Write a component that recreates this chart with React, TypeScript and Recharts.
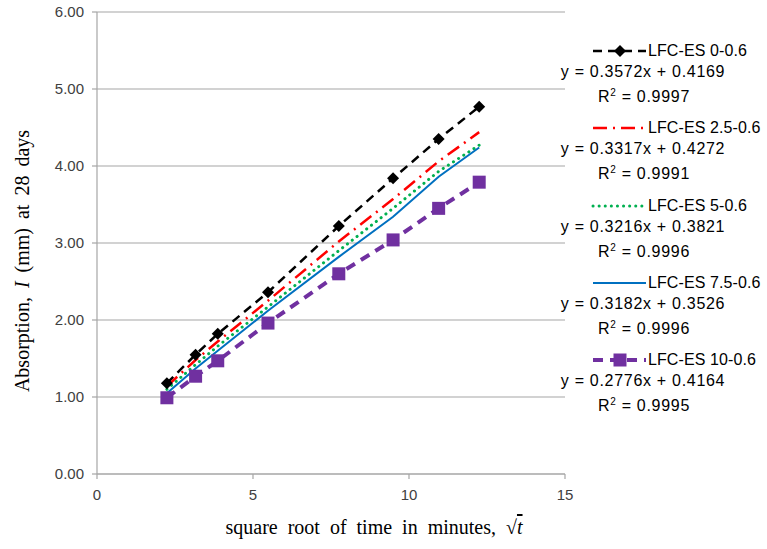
import React from "react";
import { LineChart, Line, XAxis, YAxis, CartesianGrid, Label } from "recharts";

const sqrtTime = [2.24, 3.16, 3.87, 5.48, 7.75, 9.49, 10.95, 12.25];
const es0 = [1.18, 1.55, 1.82, 2.36, 3.22, 3.84, 4.35, 4.77];
const es25 = [1.14, 1.48, 1.72, 2.25, 3.02, 3.57, 4.06, 4.44];
const es5 = [1.1, 1.42, 1.66, 2.17, 2.9, 3.45, 3.93, 4.27];
const es75 = [1.05, 1.37, 1.6, 2.12, 2.82, 3.34, 3.86, 4.24];
const es10 = [0.99, 1.27, 1.47, 1.96, 2.6, 3.04, 3.45, 3.79];

const xTicks = [0, 5, 10, 15];
const yTicks = [0, 1, 2, 3, 4, 5, 6];

const seriesNames = ["LFC-ES 0-0.6", "LFC-ES 2.5-0.6", "LFC-ES 5-0.6", "LFC-ES 7.5-0.6", "LFC-ES 10-0.6"];
const equations = [
  "y = 0.3572x + 0.4169",
  "y = 0.3317x + 0.4272",
  "y = 0.3216x + 0.3821",
  "y = 0.3182x + 0.3526",
  "y = 0.2776x + 0.4164",
];
const r2Values = ["0.9997", "0.9991", "0.9996", "0.9996", "0.9995"];

const data = sqrtTime.map((x, i) => ({
  x,
  s0: es0[i],
  s25: es25[i],
  s5: es5[i],
  s75: es75[i],
  s10: es10[i],
}));

const styles = [
  { key: "s0", color: "#000000", width: 2.5, dash: "9 6", cap: "butt" as const, marker: "diamond" },
  { key: "s25", color: "#ff0000", width: 2.5, dash: "14 6 2 6", cap: "butt" as const, marker: "none" },
  { key: "s5", color: "#00b050", width: 3, dash: "0.1 6", cap: "round" as const, marker: "none" },
  { key: "s75", color: "#0070c0", width: 2, dash: undefined, cap: "butt" as const, marker: "none" },
  { key: "s10", color: "#7030a0", width: 4, dash: "10 7", cap: "butt" as const, marker: "square" },
];

const Diamond = (props: any) => {
  const { cx, cy } = props;
  if (cx == null || cy == null) return null;
  const r = 6;
  return <path d={`M${cx},${cy - r}L${cx + r},${cy}L${cx},${cy + r}L${cx - r},${cy}Z`} fill="#000" />;
};
const Square = (props: any) => {
  const { cx, cy } = props;
  if (cx == null || cy == null) return null;
  const r = 6.5;
  return <rect x={cx - r} y={cy - r} width={2 * r} height={2 * r} fill="#7030a0" />;
};

const font = "'Liberation Sans', Arial, sans-serif";
const serif = "'Liberation Serif', 'Times New Roman', serif";

const textStyle: React.CSSProperties = {
  position: "absolute",
  fontFamily: font,
  fontSize: 16,
  letterSpacing: 0.7,
  color: "#000",
  whiteSpace: "nowrap",
  lineHeight: "18px",
};

const LegendBlock = () => (
  <div style={{ position: "absolute", left: 0, top: 0, width: 767, height: 549, pointerEvents: "none" }}>
    {seriesNames.map((name, i) => {
      const s = styles[i];
      const top = 51 + i * 77.3;
      return (
        <React.Fragment key={name}>
          <svg style={{ position: "absolute", left: 590, top: top - 8 }} width={60} height={16}>
            <line
              x1={3}
              y1={8}
              x2={56}
              y2={8}
              stroke={s.color}
              strokeWidth={s.width}
              strokeDasharray={s.dash}
              strokeLinecap={s.cap}
            />
            {s.marker === "diamond" && <Diamond cx={30} cy={8} />}
            {s.marker === "square" && <Square cx={30} cy={8} />}
          </svg>
          <div style={{ ...textStyle, left: 648, top: top - 9, letterSpacing: 0.1 }}>{name}</div>
          <div style={{ ...textStyle, left: 643, top: top + 12, transform: "translateX(-50%)" }}>{equations[i]}</div>
          <div style={{ ...textStyle, left: 644, top: top + 37, transform: "translateX(-50%)" }}>
            R<sup style={{ fontSize: 10, verticalAlign: "6px", lineHeight: 0 }}>2</sup> = {r2Values[i]}
          </div>
        </React.Fragment>
      );
    })}
  </div>
);

const YLabel = () => {
  const cx = 22;
  const cy = 261;
  return (
    <text x={cx} y={cy} transform={`rotate(-90 ${cx} ${cy})`} textAnchor="middle" dominantBaseline="central" fontFamily={serif} fontSize={20} wordSpacing={4} fill="#000">
      Absorption,{" "}
      <tspan fontStyle="italic">I</tspan>
      <tspan> (mm) at 28 days</tspan>
    </text>
  );
};

const XLabel = () => {
  const cx = 374;
  const cy = 527;
  return (
    <text x={cx} y={cy} textAnchor="middle" dominantBaseline="central" fontFamily={serif} fontSize={20} wordSpacing={5} fill="#000">
      square root of time in minutes,{" "}
      <tspan>√</tspan>
      <tspan fontStyle="italic" textDecoration="overline">t</tspan>
    </text>
  );
};

export default function App() {
  return (
    <div style={{ position: "absolute", left: 0, top: 0, width: 767, height: 549, background: "#fff" }}>
      <LineChart width={767} height={549} data={data} margin={{ top: 12, right: 202, bottom: 35, left: 37 }}>
        <CartesianGrid horizontal vertical={false} stroke="#a6a6a6" strokeWidth={1.2} />
        <XAxis
          dataKey="x"
          type="number"
          domain={[0, 15]}
          ticks={xTicks}
          height={40}
          stroke="#a6a6a6"
          strokeWidth={1.2}
          tickSize={5}
          tick={{ fill: "#404040", fontFamily: font, fontSize: 15 }}
          tickMargin={10}
        >
          <Label content={<XLabel />} />
        </XAxis>
        <YAxis
          type="number"
          domain={[0, 6]}
          ticks={yTicks}
          width={60}
          stroke="#a6a6a6"
          strokeWidth={1.2}
          tickSize={5}
          tickMargin={8}
          tickFormatter={(v: number) => v.toFixed(2)}
          tick={{ fill: "#404040", fontFamily: font, fontSize: 15 }}
        >
          <Label content={<YLabel />} />
        </YAxis>
        {styles.map((s, i) => (
          <Line
            key={s.key}
            dataKey={s.key}
            name={seriesNames[i]}
            type="linear"
            stroke={s.color}
            strokeWidth={s.width}
            strokeDasharray={s.dash}
            strokeLinecap={s.cap}
            dot={s.marker === "diamond" ? <Diamond /> : s.marker === "square" ? <Square /> : false}
            activeDot={false}
            isAnimationActive={false}
          />
        ))}
      </LineChart>
      <LegendBlock />
    </div>
  );
}
